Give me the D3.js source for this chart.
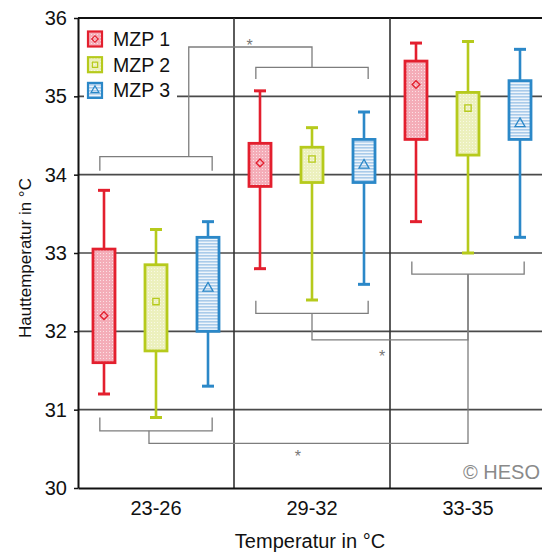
<!DOCTYPE html>
<html>
<head>
<meta charset="utf-8">
<script src="https://cdn.jsdelivr.net/npm/d3@7"></script>
<style>
  html, body { margin: 0; padding: 0; background: #fff; }
  svg { display: block; font-family: "Liberation Sans", Arial, Helvetica, sans-serif; }
</style>
</head>
<body>
<svg id="chart" width="542" height="553"></svg>
<script>
// Skin temperature by ambient temperature band, three measurement points
const categories = ["23-26", "29-32", "33-35"];
const seriesNames = ["MZP 1", "MZP 2", "MZP 3"];
const yTicks = [30, 31, 32, 33, 34, 35, 36];

// Box plot statistics per series, one value per category
const whiskerLow  = { "MZP 1": [31.2, 32.8, 33.4],   "MZP 2": [30.9, 32.4, 33.0],   "MZP 3": [31.3, 32.6, 33.2] };
const quartile1   = { "MZP 1": [31.6, 33.85, 34.45], "MZP 2": [31.75, 33.9, 34.25], "MZP 3": [32.0, 33.9, 34.45] };
const quartile3   = { "MZP 1": [33.05, 34.4, 35.45], "MZP 2": [32.85, 34.35, 35.05], "MZP 3": [33.2, 34.45, 35.2] };
const whiskerHigh = { "MZP 1": [33.8, 35.07, 35.68], "MZP 2": [33.3, 34.6, 35.7],   "MZP 3": [33.4, 34.8, 35.6] };
const meanValue   = { "MZP 1": [32.2, 34.15, 35.15], "MZP 2": [32.38, 34.2, 34.85], "MZP 3": [32.55, 34.12, 34.65] };

// Significance brackets: category index, bar level, leg end level
const brackets = [
  { cat: 0, level: 34.23, tip: 34.05 },
  { cat: 1, level: 35.37, tip: 35.22 },
  { cat: 1, level: 32.23, tip: 32.39 },
  { cat: 2, level: 32.73, tip: 32.89 },
  { cat: 0, level: 30.73, tip: 30.90 }
];
// Links between brackets (category-unit x anchors), with asterisk position
const links = [
  { from: 0, to: 1, fromX: 0.21, toX: 1.0, level: 35.63, starX: 0.60, starY: 35.69 },
  { from: 2, to: 3, fromX: 1.0, toX: 2.0, level: 31.89, starX: 1.45, starY: 31.72 },
  { from: 4, to: 3, fromX: -0.045, toX: 2.0, level: 30.57, starX: 0.91, starY: 30.45 }
];

const colors = { "MZP 1": "#e31f2e", "MZP 2": "#b6ca1c", "MZP 3": "#2b88c8" };

const svg = d3.select("#chart");
const plotLeft = 78, plotRight = 546, plotTop = 18, plotBottom = 488;

const x = d3.scaleBand().domain(categories).range([plotLeft, plotRight]).padding(0);
const xs = d3.scaleBand().domain(seriesNames).range([0, x.bandwidth()]).padding(0);
const xc = d3.scaleLinear().domain([-0.5, categories.length - 0.5]).range([plotLeft, plotRight]);
const y = d3.scaleLinear().domain([30, 36]).range([plotBottom, plotTop]);

// Mean markers: rotated square, square, triangle
function marker(sel, s, size) {
  if (s === "MZP 1") {
    sel.attr("d", d3.symbol().type(d3.symbolSquare).size(size * 0.75)()).attr("data-rot", 45);
  } else if (s === "MZP 2") {
    sel.attr("d", d3.symbol().type(d3.symbolSquare).size(size)());
  } else {
    sel.attr("d", d3.symbol().type(d3.symbolTriangle).size(size)());
  }
  return sel;
}

// Fill patterns
const defs = svg.append("defs");
const pRed = defs.append("pattern").attr("id", "fillRed").attr("patternUnits", "userSpaceOnUse").attr("width", 3).attr("height", 3);
pRed.append("rect").attr("width", 3).attr("height", 3).attr("fill", "#f4adb8");
pRed.append("rect").attr("x", 1).attr("y", 1).attr("width", 1).attr("height", 1).attr("fill", "#fbe0e4");
const pGreen = defs.append("pattern").attr("id", "fillGreen").attr("patternUnits", "userSpaceOnUse").attr("width", 3).attr("height", 3);
pGreen.append("rect").attr("width", 3).attr("height", 3).attr("fill", "#ecf0bd");
pGreen.append("rect").attr("x", 1).attr("y", 1).attr("width", 1).attr("height", 1).attr("fill", "#f8f9e4");
const pBlue = defs.append("pattern").attr("id", "fillBlue").attr("patternUnits", "userSpaceOnUse").attr("width", 4).attr("height", 3);
pBlue.append("rect").attr("width", 4).attr("height", 3).attr("fill", "#eef5fb");
pBlue.append("rect").attr("y", 0).attr("width", 4).attr("height", 1.6).attr("fill", "#a9cbea");
const fills = { "MZP 1": "url(#fillRed)", "MZP 2": "url(#fillGreen)", "MZP 3": "url(#fillBlue)" };

// Horizontal gridlines
svg.append("g").selectAll("line").data(yTicks.filter(t => t > 30 && t < 36)).join("line")
  .attr("x1", plotLeft).attr("x2", plotRight)
  .attr("y1", d => y(d)).attr("y2", d => y(d))
  .attr("stroke", "#4a4a4a").attr("stroke-width", 1.6);
// Top frame line
svg.append("line").attr("x1", plotLeft).attr("x2", plotRight).attr("y1", y(36)).attr("y2", y(36))
  .attr("stroke", "#111").attr("stroke-width", 2);
// Category separators
svg.append("g").selectAll("line").data(categories.slice(1)).join("line")
  .attr("x1", d => x(d)).attr("x2", d => x(d))
  .attr("y1", plotTop).attr("y2", plotBottom)
  .attr("stroke", "#333").attr("stroke-width", 1.6);

// Significance brackets
const bg = svg.append("g").attr("fill", "none").attr("stroke", "#7d7d7d").attr("stroke-width", 1.3);
const span = 0.36;
brackets.forEach(b => {
  const x0 = xc(b.cat - span), x1 = xc(b.cat + span);
  bg.append("path").attr("d", `M${x0},${y(b.tip)}V${y(b.level)}H${x1}V${y(b.tip)}`);
});
links.forEach(l => {
  const a = brackets[l.from], b = brackets[l.to];
  bg.append("path").attr("d",
    `M${xc(l.fromX)},${y(a.level)}V${y(l.level)}H${xc(l.toX)}V${y(b.level)}`);
  svg.append("text").attr("x", xc(l.starX)).attr("y", y(l.starY) + 9)
    .attr("text-anchor", "middle").attr("font-size", 16).attr("fill", "#777").text("*");
});

// Box plots
seriesNames.forEach(s => {
  const g = svg.append("g");
  const cx = i => x(categories[i]) + xs(s) + xs.bandwidth() / 2;
  const boxW = 22, capW = 12;
  categories.forEach((c, i) => {
    const col = colors[s];
    g.append("line").attr("x1", cx(i)).attr("x2", cx(i))
      .attr("y1", y(whiskerLow[s][i])).attr("y2", y(whiskerHigh[s][i]))
      .attr("stroke", col).attr("stroke-width", 2.6);
    [whiskerLow[s][i], whiskerHigh[s][i]].forEach(v => {
      g.append("line").attr("x1", cx(i) - capW / 2).attr("x2", cx(i) + capW / 2)
        .attr("y1", y(v)).attr("y2", y(v))
        .attr("stroke", col).attr("stroke-width", 3);
    });
    g.append("rect").attr("x", cx(i) - boxW / 2).attr("y", y(quartile3[s][i]))
      .attr("width", boxW).attr("height", y(quartile1[s][i]) - y(quartile3[s][i]))
      .attr("fill", fills[s]).attr("stroke", col).attr("stroke-width", 2.8);
    const m = g.append("path");
    marker(m, s, s === "MZP 3" ? 44 : 40);
    m.attr("transform", `translate(${cx(i)},${y(meanValue[s][i])}) rotate(${m.attr("data-rot") || 0})`)
      .attr("fill", "none").attr("stroke", col).attr("stroke-width", 1.3);
  });
});

// Y axis
const yAxis = svg.append("g").attr("transform", `translate(${plotLeft},0)`)
  .call(d3.axisLeft(y).tickValues(yTicks).tickFormat(d3.format("d")).tickSize(4).tickPadding(7).tickSizeOuter(0));
yAxis.select(".domain").attr("stroke", "#111").attr("stroke-width", 2);
yAxis.selectAll(".tick line").attr("stroke", "#111").attr("stroke-width", 1.5);
yAxis.selectAll("text").attr("font-size", 20).attr("fill", "#111")
  .attr("font-family", "'Liberation Sans', Arial, sans-serif");

// X axis
const xAxis = svg.append("g").attr("transform", `translate(0,${plotBottom})`)
  .call(d3.axisBottom(x).tickSize(0).tickPadding(13).tickSizeOuter(0));
xAxis.select(".domain").attr("stroke", "#111").attr("stroke-width", 2);
xAxis.selectAll("text").attr("font-size", 20).attr("fill", "#111")
  .attr("font-family", "'Liberation Sans', Arial, sans-serif");

// Axis titles
svg.append("text").attr("x", 310).attr("y", 548).attr("text-anchor", "middle")
  .attr("font-size", 20).attr("fill", "#111").text("Temperatur in °C");
svg.append("text").attr("transform", "translate(31,258) rotate(-90)").attr("text-anchor", "middle")
  .attr("font-size", 17).attr("fill", "#111").text("Hauttemperatur in °C");

// Copyright mark
svg.append("text").attr("x", 540).attr("y", 479).attr("text-anchor", "end")
  .attr("font-size", 20).attr("fill", "#8a8a8a").text("© HESO");

// Legend
const lg = svg.append("g");
lg.append("rect").attr("x", 84).attr("y", 22).attr("width", 93).attr("height", 80).attr("fill", "#fff");
seriesNames.forEach((s, i) => {
  const cy = 39 + i * 25.7;
  lg.append("rect").attr("x", 88).attr("y", cy - 7.5).attr("width", 14).attr("height", 15)
    .attr("fill", fills[s]).attr("stroke", colors[s]).attr("stroke-width", 2.2);
  const m = lg.append("path");
  marker(m, s, 28);
  m.attr("transform", `translate(95,${cy}) rotate(${m.attr("data-rot") || 0})`)
    .attr("fill", "none").attr("stroke", colors[s]).attr("stroke-width", 1.2);
  lg.append("text").attr("x", 113).attr("y", cy + 7).attr("font-size", 19.5).attr("fill", "#111").text(s);
});
</script>
</body>
</html>
